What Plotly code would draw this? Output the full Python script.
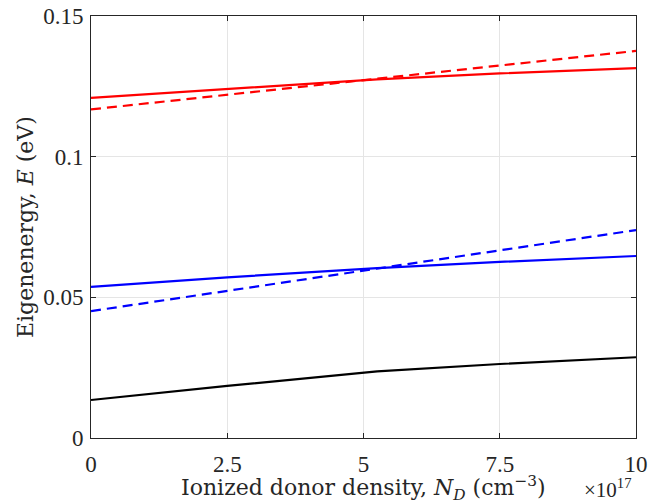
import plotly.graph_objects as go

# x values in units of 1e17 cm^-3
x_solid = [0, 2.5, 5.25, 7.5, 10]
x_dash = [0, 2.5, 5, 7.5, 10]

red_solid = [0.1209, 0.1241, 0.1275, 0.1296, 0.1315]
red_dash = [0.1168, 0.1220, 0.1272, 0.1324, 0.1376]
blue_solid = [0.0537, 0.0571, 0.0604, 0.0626, 0.0647]
blue_dash = [0.0451, 0.0523, 0.0595, 0.0667, 0.0739]
black_solid = [0.0135, 0.0185, 0.0237, 0.0263, 0.0287]

x_ticks = [0, 2.5, 5, 7.5, 10]
x_tick_text = ["0", "2.5", "5", "7.5", "10"]
y_ticks = [0, 0.05, 0.1, 0.15]
y_tick_text = ["0", "0.05", "0.1", "0.15"]

FONT = "Liberation Serif"
TFONT = "DejaVu Serif"
COL = "#262626"

fig = go.Figure()
series = [
    (x_solid, red_solid, "#ff0000", "solid"),
    (x_dash, red_dash, "#ff0000", "10px,6px"),
    (x_solid, blue_solid, "#0000ff", "solid"),
    (x_dash, blue_dash, "#0000ff", "10px,6px"),
    (x_solid, black_solid, "#000000", "solid"),
]
for xs, ys, c, d in series:
    fig.add_trace(go.Scatter(x=xs, y=ys, mode="lines",
                             line=dict(color=c, width=2.2, dash=d),
                             showlegend=False))

axis_common = dict(
    showline=True, linecolor=COL, linewidth=1, mirror="ticks",
    ticks="inside", ticklen=5, tickcolor=COL,
    showgrid=True, gridcolor="#e5e5e5", gridwidth=1,
    zeroline=False, automargin=False,
    tickfont=dict(family=FONT, size=23, color=COL),
)

fig.update_xaxes(range=[0, 10], tickvals=x_ticks, ticktext=x_tick_text,
                 ticklabelstandoff=5, **axis_common)
fig.update_yaxes(range=[0, 0.15], tickvals=y_ticks, ticktext=y_tick_text,
                 ticklabelstandoff=2, **axis_common)

fig.add_annotation(x=0.5, y=0, xref="paper", yref="paper",
                   text="Ionized donor density, <i>N<sub>D</sub></i> (cm<sup>−3</sup>)",
                   showarrow=False, xanchor="center", yanchor="middle", yshift=-50,
                   font=dict(family=TFONT, size=22, color=COL))
fig.add_annotation(x=0, y=0.5, xref="paper", yref="paper",
                   text="Eigenenergy, <i>E</i> (eV)", textangle=-90,
                   showarrow=False, xanchor="center", yanchor="middle", xshift=-66,
                   font=dict(family=TFONT, size=22, color=COL))

fig.add_annotation(x=1, y=0, xref="paper", yref="paper",
                   text="×10<sup>17</sup>", showarrow=False,
                   xanchor="right", yanchor="middle", xshift=-2, yshift=-50,
                   font=dict(family=FONT, size=21, color=COL))

fig.update_layout(
    width=650, height=504,
    margin=dict(l=91, r=14, t=16, b=66),
    paper_bgcolor="white", plot_bgcolor="white",
)

fig.write_html("out.html")
